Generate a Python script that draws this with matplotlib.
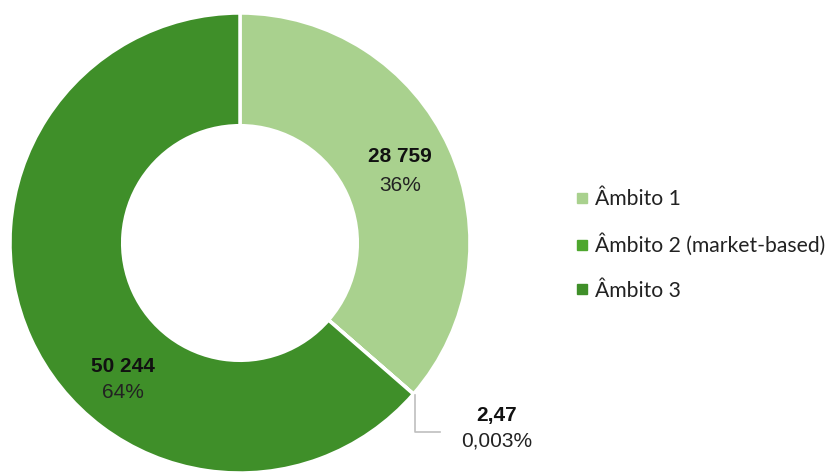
import matplotlib
matplotlib.use("Agg")
import matplotlib.pyplot as plt
from matplotlib.lines import Line2D

categories = ["Âmbito 1", "Âmbito 2 (market-based)", "Âmbito 3"]
values = [28759, 2.47, 50244]
value_labels = ["28 759", "2,47", "50 244"]
pct_labels = ["36%", "0,003%", "64%"]
colors = ["#a9d18e", "#4ea72e", "#3f8f29"]

fig = plt.figure(figsize=(8.27, 4.73), dpi=100)
ax = fig.add_axes([10/827, 0, 460/827, 460/473])
ax.axis("off")

wedges, _ = ax.pie(values, colors=colors, startangle=90, counterclock=False,
                   radius=1, wedgeprops=dict(width=0.49, edgecolor="white", linewidth=2.5))
ax.set_xlim(-1, 1)
ax.set_ylim(-1, 1)

lab_font = ["Liberation Sans", "DejaVu Sans"]
pos = {0: (0.696, 0.374, 0.252), 2: (-0.509, -0.539, -0.650), 1: (1.117, -0.748, -0.861)}
for i in range(3):
    x, y1, y2 = pos[i]
    ax.text(x, y1, value_labels[i], ha="center", va="center", fontsize=15,
            fontweight="bold", family=lab_font, color="#111111", clip_on=False)
    ax.text(x, y2, pct_labels[i], ha="center", va="center", fontsize=15,
            family=lab_font, color="#222222", clip_on=False)

# leader line for the tiny slice
ax.plot([0.761, 0.761, 0.870], [-0.661, -0.822, -0.822], color="#bfbfbf",
        linewidth=1.2, clip_on=False)

handles = [Line2D([0], [0], marker="s", linestyle="none", markersize=6.5,
                  markerfacecolor=c, markeredgecolor=c) for c in colors]
leg = fig.legend(handles, categories, loc="center left", bbox_to_anchor=(575/827, 1 - 245/473),
                 frameon=False, handletextpad=0.25, labelspacing=1.15, borderpad=0,
                 borderaxespad=0,
                 prop=dict(family=["Lato", "DejaVu Sans"], size=15.2), handlelength=0.7)
for t in leg.get_texts():
    t.set_color("#222222")

fig.savefig("out.png", dpi=100)
